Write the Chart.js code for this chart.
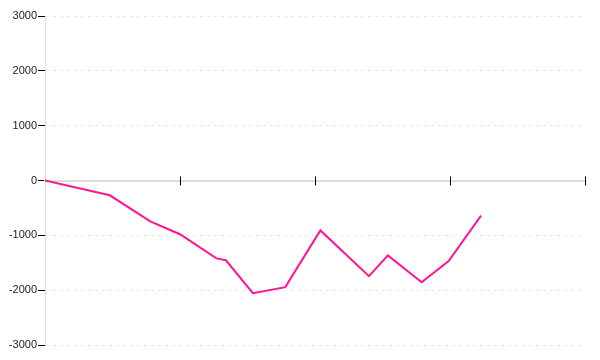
<!DOCTYPE html>
<html>
<head>
<meta charset="utf-8">
<script src="https://cdn.jsdelivr.net/npm/chart.js@4/dist/chart.umd.min.js"></script>
<style>
  html, body { margin: 0; padding: 0; background: #fff; }
  #wrap { width: 600px; height: 360px; }
</style>
</head>
<body>
<div id="wrap"><canvas id="lineChart"></canvas></div>
<script>
const xValues = [0, 48, 78, 100, 127, 134, 154, 178, 204, 240, 254, 279, 299, 323];
const yValues = [0, -270, -745, -980, -1420, -1455, -2055, -1945, -910, -1745, -1365, -1855, -1470, -640];
const yTicks = [-3000, -2000, -1000, 0, 1000, 2000, 3000];

const points = xValues.map((x, i) => ({ x: x, y: yValues[i] }));

// x tick marks cross the zero axis (above and below), drawn from the scale's own ticks
const crossTicks = {
  id: 'crossTicks',
  afterDraw(chart) {
    const xs = chart.scales.x;
    const ys = chart.scales.y;
    const y0 = ys.getPixelForValue(0);
    const c = chart.ctx;
    c.save();
    c.strokeStyle = '#000';
    c.lineWidth = 1;
    xs.ticks.forEach(t => {
      if (t.value === xs.min) return; // the first one sits on the y axis
      const px = Math.round(xs.getPixelForValue(t.value)) + 0.5;
      c.beginPath();
      c.moveTo(px, y0 - 4);
      c.lineTo(px, y0 + 5);
      c.stroke();
    });
    c.restore();
  }
};

const ctx = document.getElementById('lineChart').getContext('2d');

new Chart(ctx, {
  type: 'line',
  data: {
    datasets: [{
      data: points,
      borderColor: '#ff1493',
      borderWidth: 2,
      pointRadius: 0,
      tension: 0,
      fill: false
    }]
  },
  options: {
    responsive: true,
    maintainAspectRatio: false,
    animation: false,
    layout: {
      padding: { top: 16, bottom: 15, right: 15, left: 0 }
    },
    scales: {
      x: {
        type: 'linear',
        position: { y: 0 },
        min: 0,
        max: 400,
        ticks: { display: false, stepSize: 100 },
        border: { color: '#dddddd', width: 2 },
        grid: {
          drawOnChartArea: false,
          drawTicks: false
        }
      },
      y: {
        min: -3000,
        max: 3000,
        afterBuildTicks: (scale) => {
          scale.ticks = yTicks.map(v => ({ value: v }));
        },
        afterFit: (scale) => { scale.width = 45; },
        ticks: {
          color: '#222',
          padding: 1,
          font: { family: 'Liberation Sans', size: 11 },
          callback: (value) => String(value)
        },
        border: { color: '#dddddd', width: 1, dash: [3, 4] },
        grid: {
          color: '#e6e6e6',
          drawTicks: true,
          tickLength: 7,
          tickColor: '#000',
          tickBorderDash: [],
          tickWidth: 1
        }
      }
    },
    plugins: {
      legend: { display: false },
      tooltip: { enabled: false }
    }
  },
  plugins: [crossTicks]
});
</script>
</body>
</html>
